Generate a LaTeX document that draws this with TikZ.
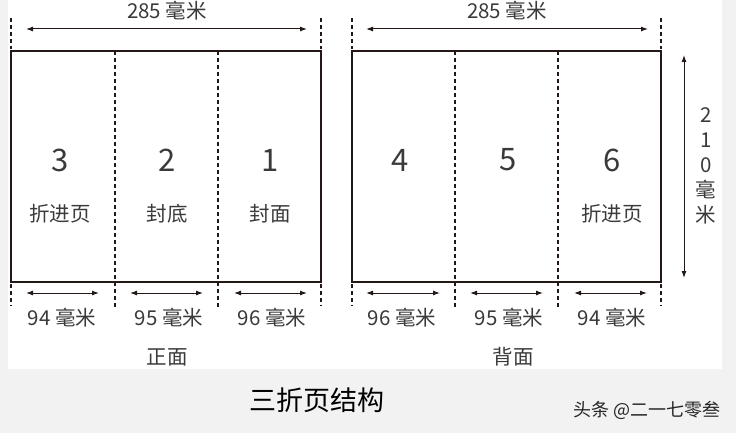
\documentclass[tikz,border=0pt]{standalone}
\usepackage{fontspec}
\setmainfont{Noto Sans CJK SC}
\usetikzlibrary{arrows.meta}
\definecolor{ink}{HTML}{231815}
\definecolor{txt}{HTML}{3A3A3A}
\definecolor{bg}{HTML}{F2F2F2}
\begin{document}
\begin{tikzpicture}[x=1pt,y=-1pt,
  frame/.style={draw=ink,line width=1.8pt},
  fold/.style={draw=ink,line width=1.8pt,dash pattern=on 4pt off 3pt},
  ext/.style={draw=ink,line width=1.8pt,dash pattern=on 4pt off 3pt},
  dim/.style={draw=ink,line width=1pt,{Latex[length=7pt,width=5pt]}-{Latex[length=7pt,width=5pt]}},
  lbl/.style={text=txt,font=\fontsize{20.5}{25}\selectfont,inner sep=0pt},
  big/.style={text=txt,font=\fontsize{31}{31}\selectfont,inner sep=0pt}]
\useasboundingbox (0,0) rectangle (736,433);
\fill[bg] (0,0) rectangle (736,433);
\fill[white] (8,0) rectangle (722,369);
% left sheet
\draw[frame] (11,51) rectangle (321,282);
\draw[fold] (115,51) -- (115,308);
\draw[fold] (218,51) -- (218,308);
\draw[ext] (11,18) -- (11,49);
\draw[ext] (321,18) -- (321,49);
\draw[ext] (11,284) -- (11,306);
\draw[ext] (321,284) -- (321,306);
\coordinate (ta) at (26,29); \coordinate (tb) at (307,29);
\draw[dim] (ta) -- (tb);
\node[lbl] (t1) at (167,11) {285 毫米};
\coordinate (b1a) at (26,293); \coordinate (b1b) at (99,293);
\coordinate (b2a) at (130,293); \coordinate (b2b) at (203,293);
\coordinate (b3a) at (234,293); \coordinate (b3b) at (307,293);
\draw[dim] (b1a) -- (b1b); \draw[dim] (b2a) -- (b2b); \draw[dim] (b3a) -- (b3b);
\node[lbl] (m1) at (62,318) {94 毫米};
\node[lbl] (m2) at (169,318) {95 毫米};
\node[lbl] (m3) at (272,318) {96 毫米};
\node[lbl] (f1) at (167,357) {正面};
\node[big] (n3) at (60,160) {3};
\node[big] (n2) at (167,160) {2};
\node[big] (n1) at (270,160) {1};
\node[lbl] (p3) at (60,214) {折进页};
\node[lbl] (p2) at (167,214) {封底};
\node[lbl] (p1) at (270,214) {封面};
% right sheet
\draw[frame] (352,51) rectangle (661,282);
\draw[fold] (455,51) -- (455,308);
\draw[fold] (558,51) -- (558,308);
\draw[ext] (352,18) -- (352,49);
\draw[ext] (661,18) -- (661,49);
\draw[ext] (352,284) -- (352,306);
\draw[ext] (661,284) -- (661,306);
\coordinate (ra) at (366,29); \coordinate (rb) at (648,29);
\draw[dim] (ra) -- (rb);
\node[lbl] (t2) at (507,11) {285 毫米};
\coordinate (c1a) at (366,293); \coordinate (c1b) at (440,293);
\coordinate (c2a) at (470,293); \coordinate (c2b) at (543,293);
\coordinate (c3a) at (574,293); \coordinate (c3b) at (647,293);
\draw[dim] (c1a) -- (c1b); \draw[dim] (c2a) -- (c2b); \draw[dim] (c3a) -- (c3b);
\node[lbl] (r1) at (402,318) {96 毫米};
\node[lbl] (r2) at (509,318) {95 毫米};
\node[lbl] (r3) at (612,318) {94 毫米};
\node[lbl] (f2) at (513,357) {背面};
\node[big] (n4) at (400,160) {4};
\node[big] (n5) at (508,160) {5};
\node[big] (n6) at (612,160) {6};
\node[lbl] (p6) at (612,214) {折进页};
% vertical dimension
\coordinate (va) at (684,55); \coordinate (vb) at (684,278);
\draw[dim] (va) -- (vb);
\node[lbl,align=center] (h) at (706,166) {2\\1\\0\\毫\\米};
% caption
\node[inner sep=0pt,text=black,font=\fontsize{27}{27}\selectfont] (cap) at (317,400) {三折页结构};
\node[inner sep=0pt,text=black!85,font=\fontsize{18}{18}\selectfont] (wm) at (647,410) {头条 @二一七零叁};
\end{tikzpicture}
\end{document}
